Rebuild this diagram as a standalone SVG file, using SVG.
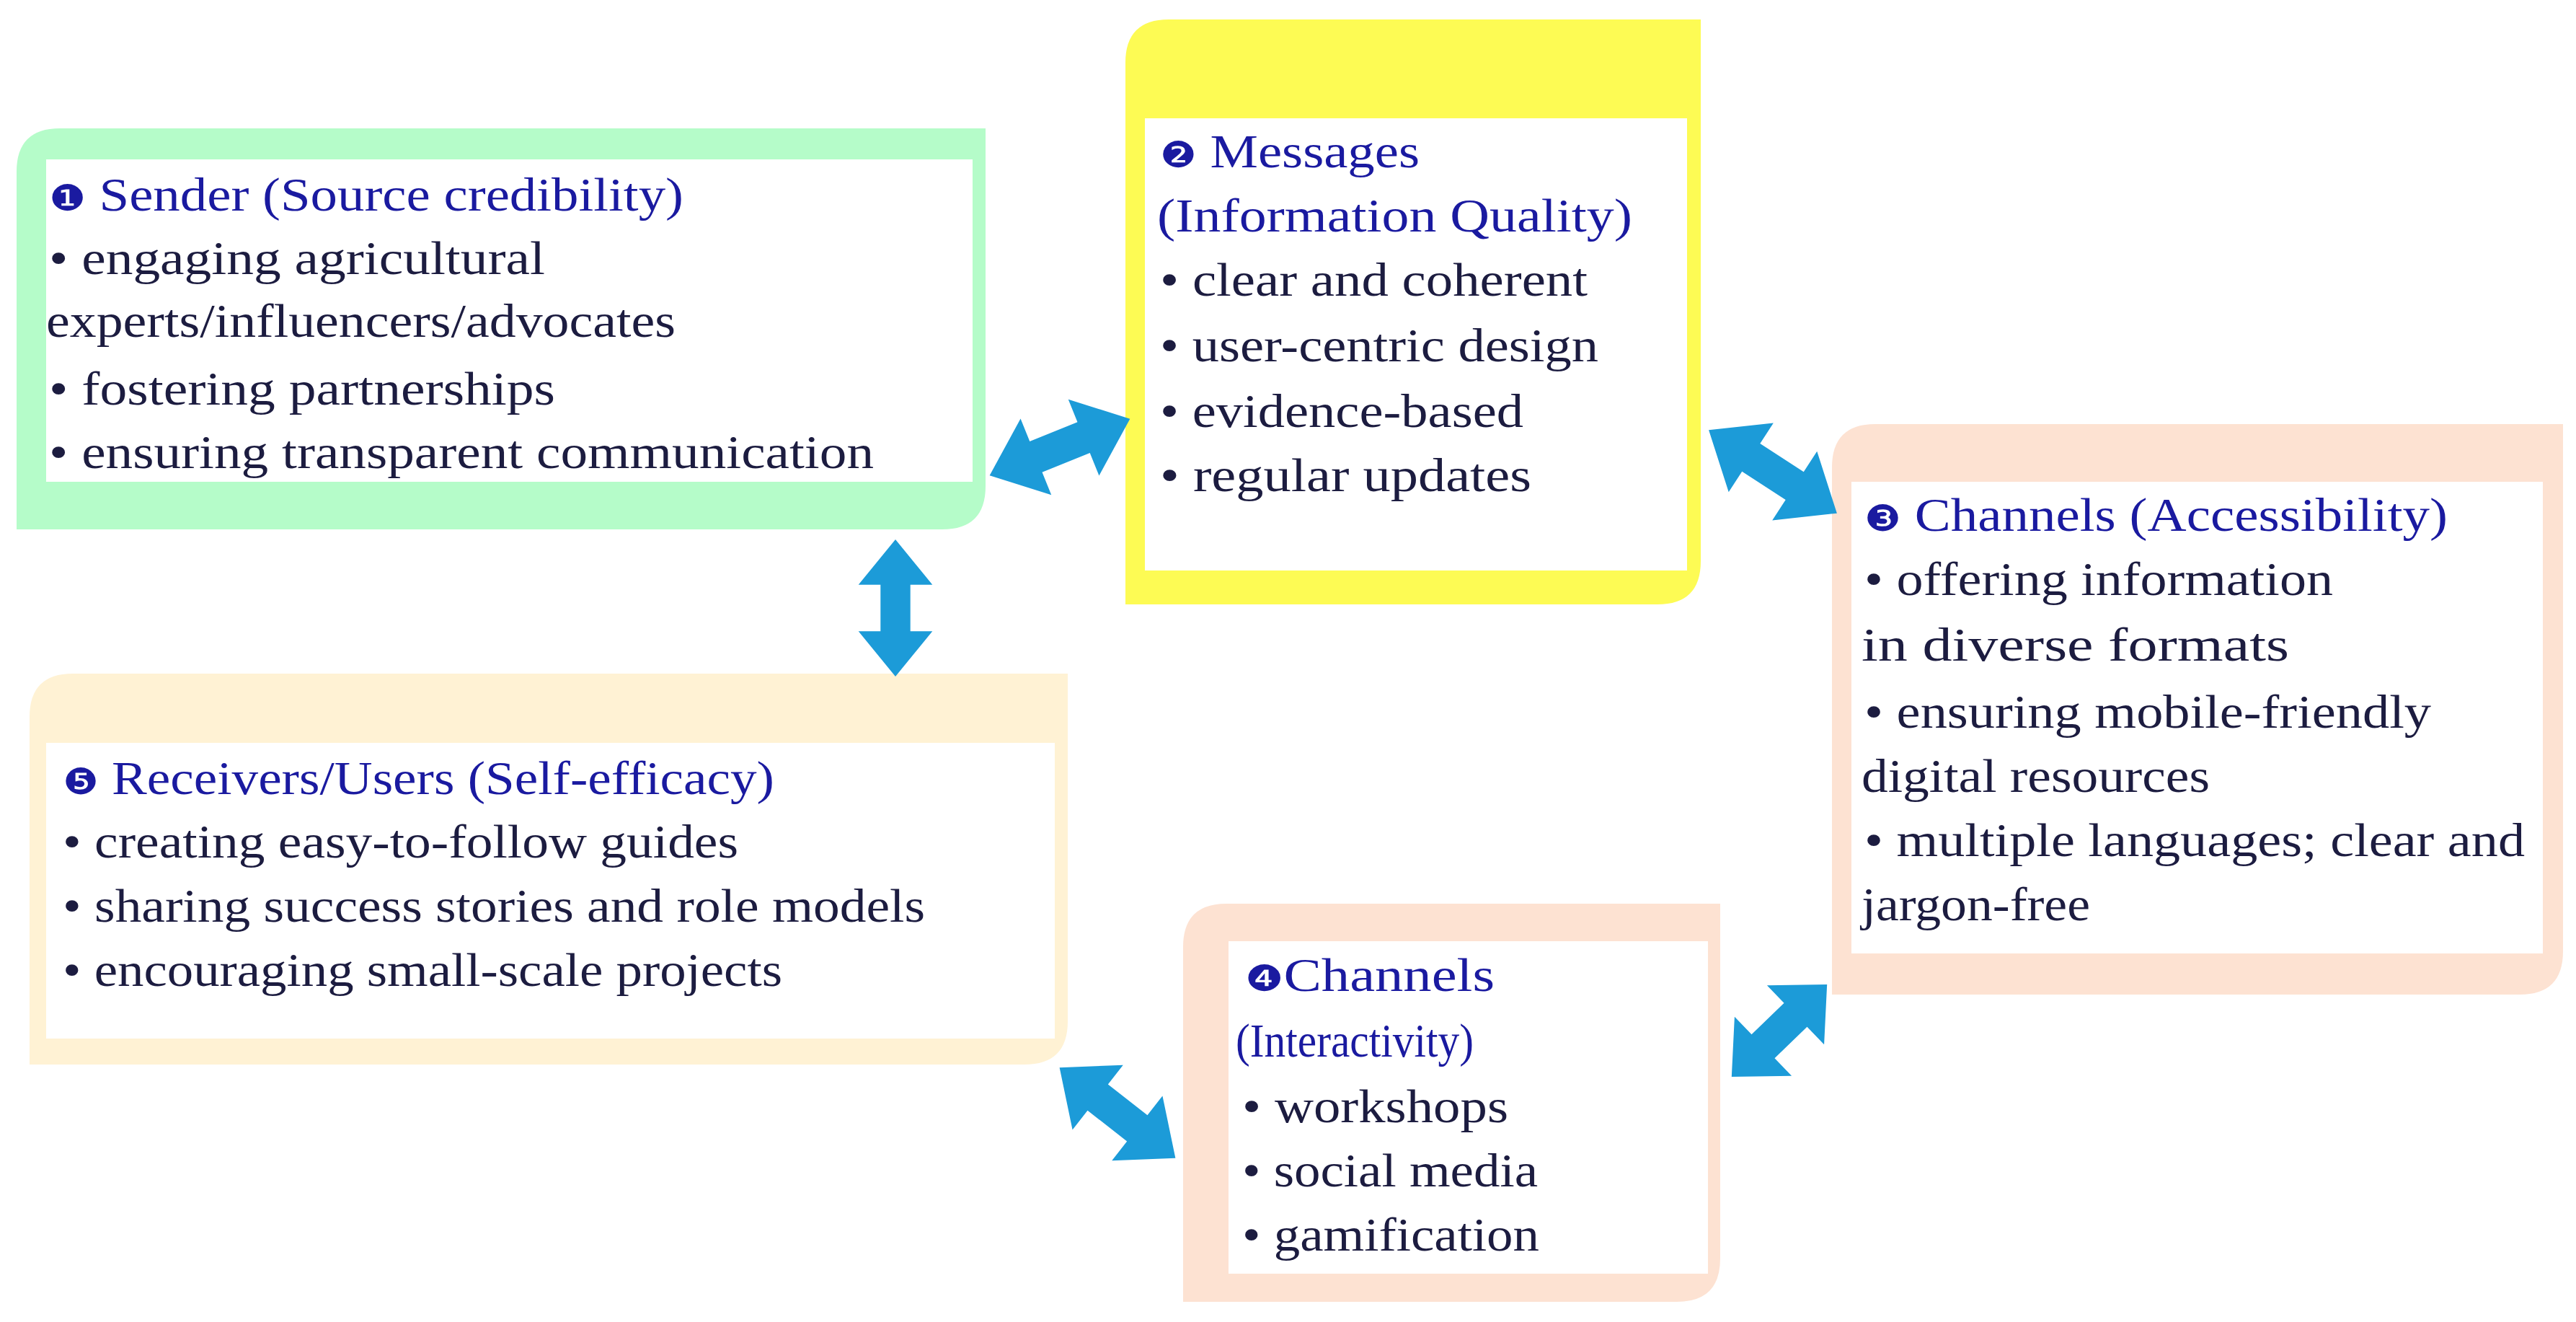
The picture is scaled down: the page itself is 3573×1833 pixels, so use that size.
<svg xmlns="http://www.w3.org/2000/svg" xmlns:xlink="http://www.w3.org/1999/xlink" width="3573" height="1833" viewBox="0 0 3573 1833">
<style>
text{font-family:"Liberation Serif","DejaVu Serif",serif;font-size:66px;fill:#1c1c40}
.t{fill:#1a1aa0}
.n{font-family:"DejaVu Sans",sans-serif;font-size:50px;fill:#1a1aa0}
.in{fill:#fff}
.arr{fill:#1c9bd8}
</style>
<defs>
<path id="da" d="M-100,0 L-34,-57 L-34,-23 L34,-23 L34,-57 L100,0 L34,57 L34,23 L-34,23 L-34,57 Z"/>
</defs>
<rect width="3573" height="1833" fill="#fff"/>
<g id="sender">
<path d="M83,178 H1367 V674 Q1367,734 1307,734 H23 V238 Q23,178 83,178 Z" fill="#b5fcc9"/>
<rect class="in" x="64" y="221" width="1285" height="447"/>
<text x="68" y="292" class="t" textLength="880" lengthAdjust="spacingAndGlyphs"><tspan class="n">❶</tspan> Sender (Source credibility)</text>
<text x="68" y="380" textLength="688" lengthAdjust="spacingAndGlyphs">• engaging agricultural</text>
<text x="64" y="467" textLength="873" lengthAdjust="spacingAndGlyphs">experts/influencers/advocates</text>
<text x="68" y="561" textLength="702" lengthAdjust="spacingAndGlyphs">• fostering partnerships</text>
<text x="68" y="649" textLength="1144" lengthAdjust="spacingAndGlyphs">• ensuring transparent communication</text>
</g>
<g id="messages">
<path d="M1621,27 H2359 V778 Q2359,838 2299,838 H1561 V87 Q1561,27 1621,27 Z" fill="#fdfb54"/>
<rect class="in" x="1588" y="164" width="752" height="627"/>
<text x="1609" y="232" class="t" textLength="360" lengthAdjust="spacingAndGlyphs"><tspan class="n">❷</tspan> Messages</text>
<text x="1605" y="321" class="t" textLength="659" lengthAdjust="spacingAndGlyphs">(Information Quality)</text>
<text x="1609" y="410" textLength="593" lengthAdjust="spacingAndGlyphs">• clear and coherent</text>
<text x="1609" y="501" textLength="608" lengthAdjust="spacingAndGlyphs">• user-centric design</text>
<text x="1609" y="592" textLength="504" lengthAdjust="spacingAndGlyphs">• evidence-based</text>
<text x="1609" y="681" textLength="515" lengthAdjust="spacingAndGlyphs">• regular updates</text>
</g>
<g id="channels-access">
<path d="M2601,588 H3555 V1319 Q3555,1379 3495,1379 H2541 V648 Q2541,588 2601,588 Z" fill="#fde2d2"/>
<rect class="in" x="2568" y="668" width="959" height="654"/>
<text x="2586" y="736" class="t" textLength="809" lengthAdjust="spacingAndGlyphs"><tspan class="n">❸</tspan> Channels (Accessibility)</text>
<text x="2586" y="825" textLength="650" lengthAdjust="spacingAndGlyphs">• offering information</text>
<text x="2582" y="916" textLength="593" lengthAdjust="spacingAndGlyphs">in diverse formats</text>
<text x="2586" y="1009" textLength="786" lengthAdjust="spacingAndGlyphs">• ensuring mobile-friendly</text>
<text x="2582" y="1098" textLength="483" lengthAdjust="spacingAndGlyphs">digital resources</text>
<text x="2586" y="1187" textLength="916" lengthAdjust="spacingAndGlyphs">• multiple languages; clear and</text>
<text x="2582" y="1276" textLength="317" lengthAdjust="spacingAndGlyphs">jargon-free</text>
</g>
<g id="receivers">
<path d="M101,934 H1481 V1416 Q1481,1476 1421,1476 H41 V994 Q41,934 101,934 Z" fill="#fff2d4"/>
<rect class="in" x="64" y="1030" width="1399" height="410"/>
<text x="87" y="1101" class="t" textLength="987" lengthAdjust="spacingAndGlyphs"><tspan class="n">❺</tspan> Receivers/Users (Self-efficacy)</text>
<text x="87" y="1189" textLength="937" lengthAdjust="spacingAndGlyphs">• creating easy-to-follow guides</text>
<text x="87" y="1278" textLength="1196" lengthAdjust="spacingAndGlyphs">• sharing success stories and role models</text>
<text x="87" y="1367" textLength="998" lengthAdjust="spacingAndGlyphs">• encouraging small-scale projects</text>
</g>
<g id="channels-inter">
<path d="M1701,1253 H2386 V1745 Q2386,1805 2326,1805 H1641 V1313 Q1641,1253 1701,1253 Z" fill="#fde2d2"/>
<rect class="in" x="1704" y="1305" width="665" height="461"/>
<text x="1727" y="1374" class="t" textLength="346" lengthAdjust="spacingAndGlyphs"><tspan class="n">❹</tspan>Channels</text>
<text x="1714" y="1465" class="t" textLength="330" lengthAdjust="spacingAndGlyphs">(Interactivity)</text>
<text x="1723" y="1556" textLength="369" lengthAdjust="spacingAndGlyphs">• workshops</text>
<text x="1723" y="1645" textLength="410" lengthAdjust="spacingAndGlyphs">• social media</text>
<text x="1723" y="1734" textLength="412" lengthAdjust="spacingAndGlyphs">• gamification</text>
</g>
<g id="connectors" class="arr">
<use xlink:href="#da" transform="translate(1470,620) rotate(-22) scale(1.05,1)"/>
<use xlink:href="#da" transform="translate(1242,843) rotate(90) scale(0.95,0.9)"/>
<use xlink:href="#da" transform="translate(2459,654) rotate(33) scale(1.06,1)"/>
<use xlink:href="#da" transform="translate(1550,1543) rotate(38) scale(1.02,1)"/>
<use xlink:href="#da" transform="translate(2468,1429) rotate(-44) scale(0.92,1)"/>
</g>
</svg>
